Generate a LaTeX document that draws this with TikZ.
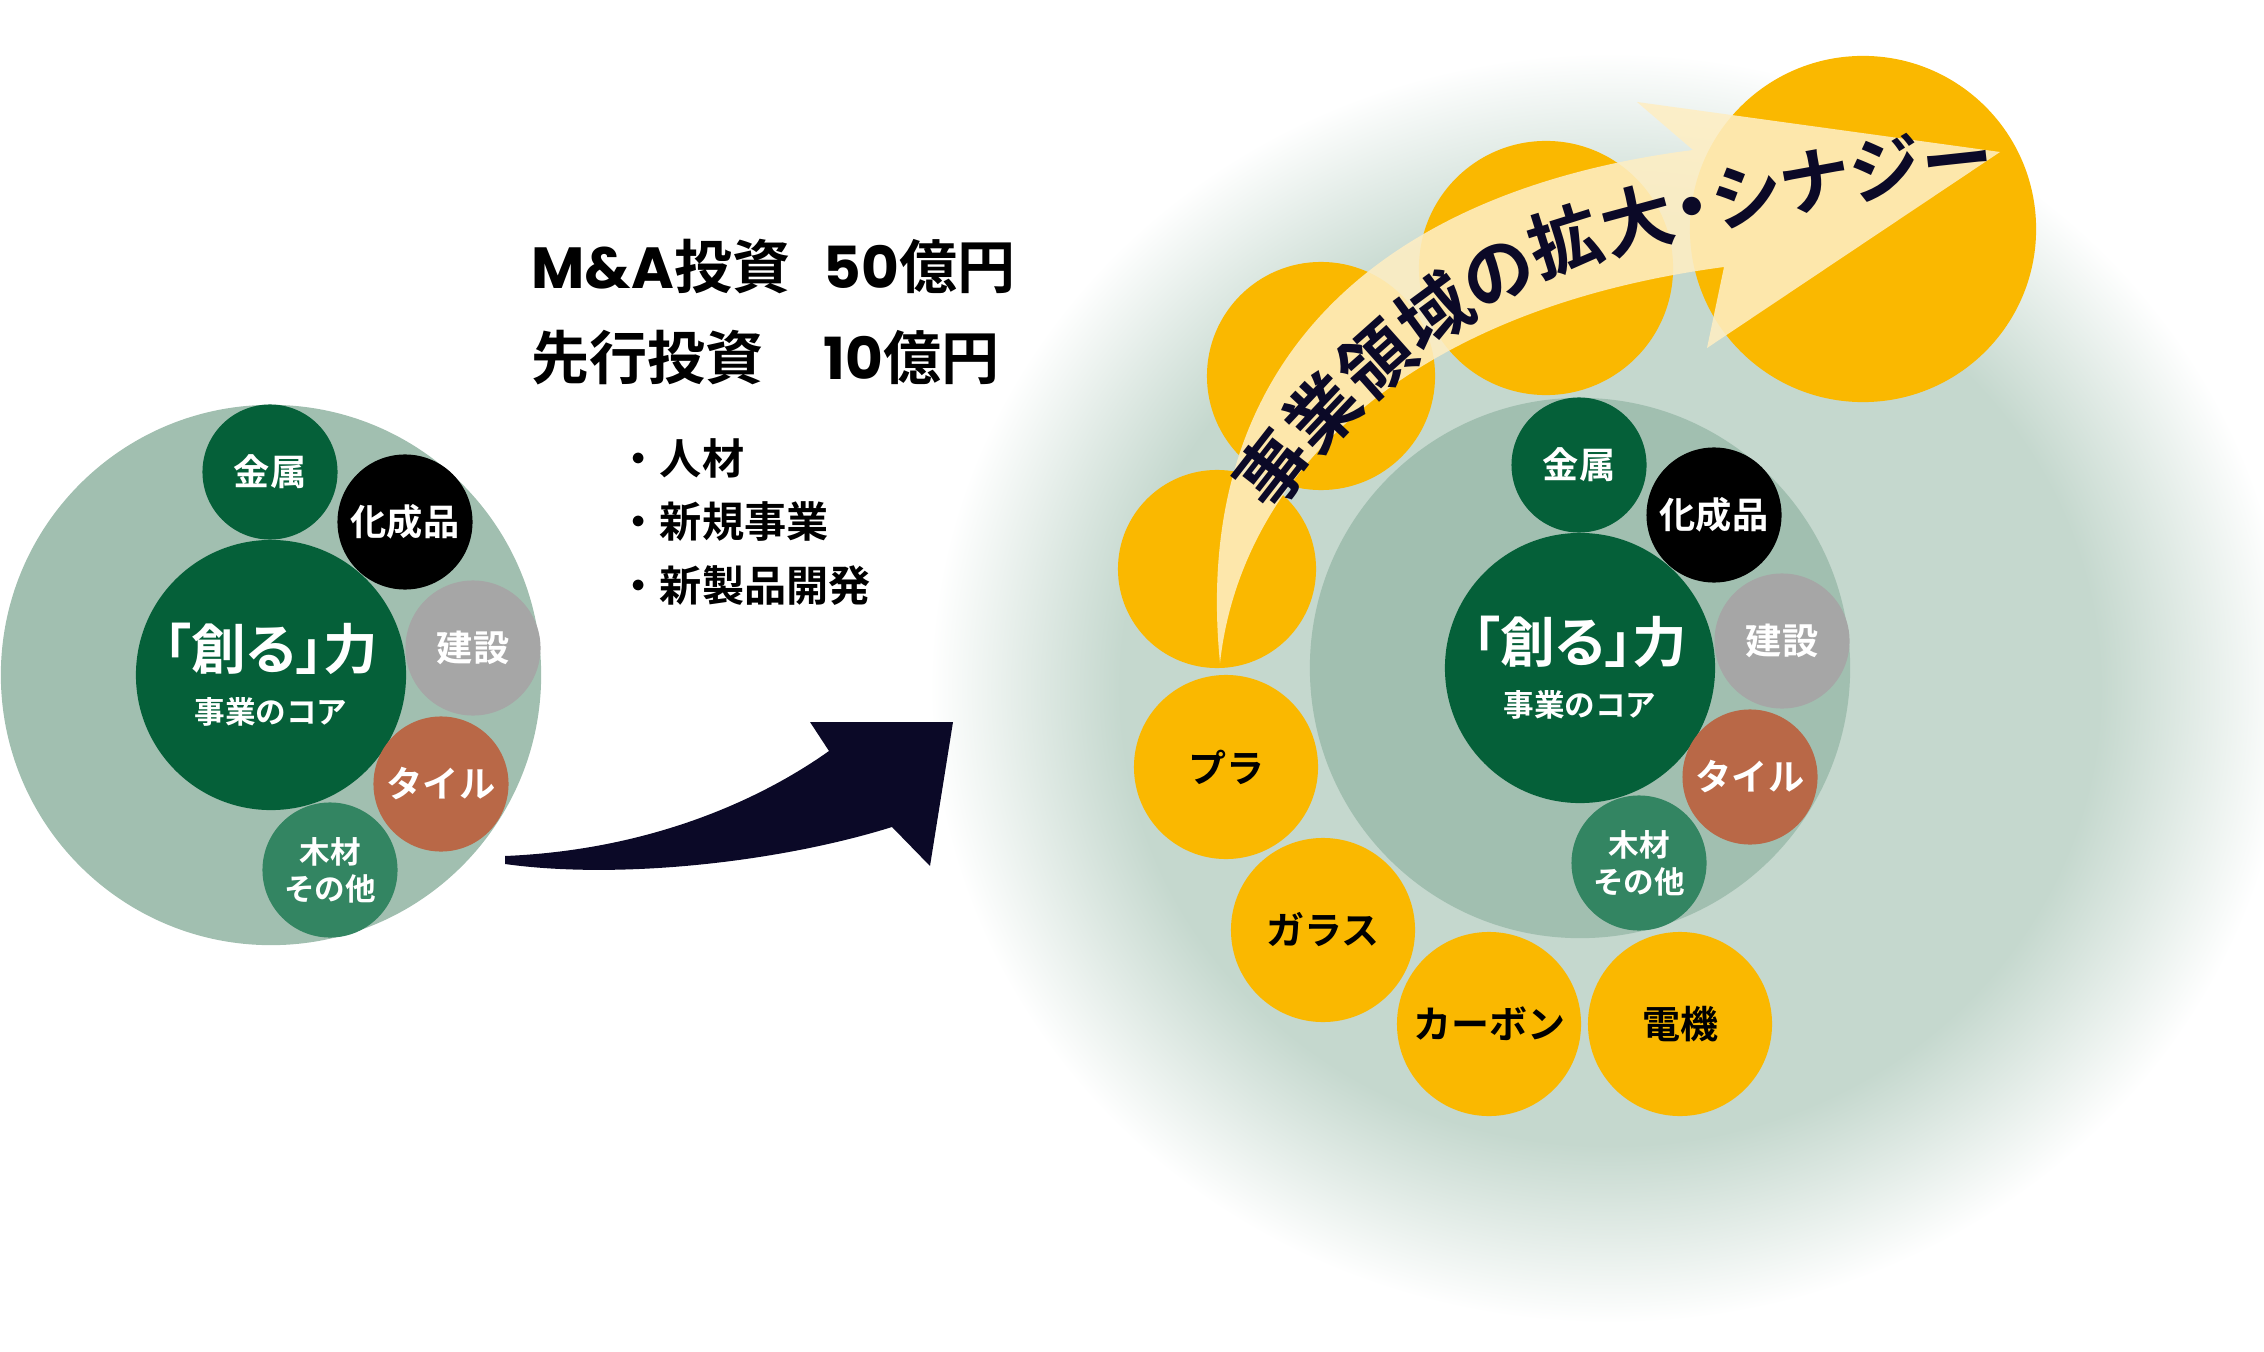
\documentclass[tikz,border=0pt]{standalone}
\usepackage{fontspec}
\setmainfont{Noto Sans CJK JP}[BoldFont={Noto Sans CJK JP Bold}]
\newfontfamily\paltfont{Noto Sans CJK JP}[BoldFont={Noto Sans CJK JP Bold}, RawFeature=+palt]
\newfontfamily\latfont{Poppins}
\usetikzlibrary{decorations.text}

\definecolor{fieldgreen}{HTML}{A1BFB0}
\definecolor{glowgreen}{HTML}{C5D8CE}
\definecolor{coregreen}{HTML}{056039}
\definecolor{stonegray}{HTML}{A6A6A6}
\definecolor{tilebrown}{HTML}{B96847}
\definecolor{woodgreen}{HTML}{338562}
\definecolor{newyellow}{HTML}{FAB800}
\definecolor{arrownavy}{HTML}{0B0927}
\definecolor{arrowcream}{HTML}{FEEEC3}

\pgfdeclareradialshading{glowshade}{\pgfpoint{0bp}{0bp}}{color(0bp)=(glowgreen); color(18bp)=(glowgreen); color(25bp)=(white); color(50bp)=(white)}

\newcommand\arrowtext{\paltfont\bfseries\fontsize{20.5}{23}\selectfont\color{arrownavy}}

\tikzset{
  field/.style={circle, fill=fieldgreen, minimum size=5.4cm, inner sep=0pt},
  core/.style={circle, fill=coregreen, minimum size=2.7cm, inner sep=0pt, text=white, align=center, font=\bfseries\fontsize{8.7}{15.4}\selectfont},
  part/.style={circle, minimum size=1.35cm, inner sep=0pt, text=white, align=center, font=\bfseries\fontsize{10.3}{11}\selectfont},
  woodpart/.style={part, fill=woodgreen, font=\bfseries\fontsize{8.7}{10.5}\selectfont},
  newfield/.style={circle, fill=newyellow, inner sep=0pt, font=\bfseries\fontsize{10.8}{12}\selectfont},
  bullet/.style={anchor=west, inner sep=0pt, font=\bfseries\fontsize{12}{14}\selectfont},
}

\begin{document}
\begin{tikzpicture}[x=0.01cm, y=-0.01cm]
    \useasboundingbox (0,0) rectangle (2264,1352);

    % glow behind the grown business
    \shade[shading=glowshade] (1610,688) ellipse (680 and 635);

    % today
    \node[field] (fieldL) at (271,675) {};
    \node[core] (coreL) at (271,675) {{\paltfont\fontsize{15.5}{17}\selectfont 「創る」力}\\事業のコア};
    \node[part, fill=coregreen] (metalL) at (270,472) {金属};
    \node[part, fill=black] (chemL) at (405,522) {化成品};
    \node[part, fill=stonegray] (buildL) at (473,648) {建設};
    \node[part, fill=tilebrown] (tileL) at (441,784) {タイル};
    \node[woodpart] (woodL) at (330,870) {木材\\その他};

    % investment
    \node[anchor=west, inner sep=0pt, font=\bfseries\fontsize{16.5}{25.6}\selectfont] (invest) at (531,316)
        {\begin{tabular}{@{}p{2.92cm}@{}l@{}}
            {\latfont M\&A}投資 & {\latfont 50}億円\\
            先行投資 & {\latfont 10}億円
        \end{tabular}};
    \node[bullet] (b1) at (617,458) {・人材};
    \node[bullet] (b2) at (617,522) {・新規事業};
    \node[bullet] (b3) at (617,586) {・新製品開発};

    \fill[arrownavy] (505,856) .. controls (650,850) and (760,800) .. (829,751) -- (810,722)
        -- (953,722) -- (930,866) -- (892,827) .. controls (780,862) and (620,880) .. (505,864) -- cycle;

    % new fields
    \node[newfield, minimum size=1.98cm] (newA) at (1217,569) {};
    \node[newfield, minimum size=2.28cm] (newB) at (1321,376) {};
    \node[newfield, minimum size=2.54cm] (newC) at (1546,268) {};
    \node[newfield, minimum size=3.46cm] (newD) at (1863,229) {};
    \node[newfield, minimum size=1.84cm] (pla) at (1226,767) {プラ};
    \node[newfield, minimum size=1.84cm] (glass) at (1323,930) {ガラス};
    \node[newfield, minimum size=1.84cm] (carbon) at (1489,1024) {カーボン};
    \node[newfield, minimum size=1.84cm] (elec) at (1680,1024) {電機};

    % tomorrow
    \node[field] (fieldR) at (1580,668) {};
    \node[core] (coreR) at (1580,668) {{\paltfont\fontsize{15.5}{17}\selectfont 「創る」力}\\事業のコア};
    \node[part, fill=coregreen] (metalR) at (1579,465) {金属};
    \node[part, fill=black] (chemR) at (1714,515) {化成品};
    \node[part, fill=stonegray] (buildR) at (1782,641) {建設};
    \node[part, fill=tilebrown] (tileR) at (1750,777) {タイル};
    \node[woodpart] (woodR) at (1639,863) {木材\\その他};

    \fill[arrowcream, fill opacity=0.88] (1220,663) .. controls (1190,360) and (1380,190) .. (1693,150)
        -- (1637,102) -- (2000,152) -- (1707,348) -- (1724,267)
        .. controls (1400,310) and (1240,480) .. (1220,663) -- cycle;
    \path[decorate, decoration={text along path, text={|\arrowtext|事業領域の拡大・シナジー}, text align=fit to path, raise=-7.8pt}]
        (1252,498) .. controls (1320,400) and (1440,290) .. (1552,245) .. controls (1660,210) and (1830,170) .. (1992,156);
\end{tikzpicture}
\end{document}
